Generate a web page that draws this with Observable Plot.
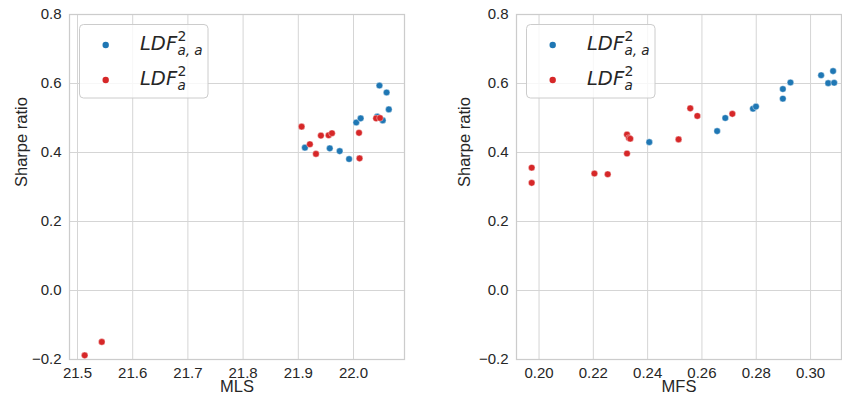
<!DOCTYPE html>
<html>
<head>
<meta charset="utf-8">
<script src="https://cdn.jsdelivr.net/npm/d3@7"></script>
<script src="https://cdn.jsdelivr.net/npm/@observablehq/plot@0.6"></script>
<style>
  html, body { margin: 0; padding: 0; background: #ffffff; }
  #wrap { position: relative; width: 842px; height: 398px; overflow: hidden; background: #ffffff; }
  .panel { position: absolute; top: 0; }
  #overlay { position: absolute; left: 0; top: 0; pointer-events: none; }
</style>
</head>
<body>
<div id="wrap">
  <div class="panel" id="left" style="left:0px"></div>
  <div class="panel" id="right" style="left:421px"></div>
</div>
<script>
// ---------- Data ----------
// Left panel: MLS vs Sharpe ratio
const mlsBlueX = [21.912, 21.957, 21.975, 21.992, 22.005, 22.013, 22.043, 22.047, 22.053, 22.060, 22.064];
const mlsBlueY = [0.414, 0.412, 0.404, 0.381, 0.487, 0.499, 0.504, 0.594, 0.493, 0.574, 0.525];
const mlsRedX = [21.513, 21.544, 21.906, 21.921, 21.932, 21.941, 21.955, 21.961, 22.010, 22.011, 22.041, 22.048];
const mlsRedY = [-0.188, -0.149, 0.475, 0.424, 0.396, 0.449, 0.450, 0.456, 0.457, 0.383, 0.499, 0.500];

// Right panel: MFS vs Sharpe ratio
const mfsBlueX = [0.2406, 0.2656, 0.2686, 0.2788, 0.2799, 0.2898, 0.2898, 0.2926, 0.3039, 0.3065, 0.3083, 0.3087];
const mfsBlueY = [0.430, 0.462, 0.500, 0.527, 0.533, 0.584, 0.556, 0.603, 0.624, 0.601, 0.636, 0.602];
const mfsRedX = [0.1973, 0.1973, 0.2204, 0.2253, 0.2324, 0.2331, 0.2336, 0.2324, 0.2514, 0.2557, 0.2583, 0.2712];
const mfsRedY = [0.356, 0.312, 0.339, 0.337, 0.452, 0.442, 0.440, 0.397, 0.438, 0.528, 0.506, 0.512];

// Tick labels
const yTicks = [-0.2, 0.0, 0.2, 0.4, 0.6, 0.8];
const mlsTicks = [21.5, 21.6, 21.7, 21.8, 21.9, 22.0];
const mfsTicks = [0.20, 0.22, 0.24, 0.26, 0.28, 0.30];
const seriesNames = ["a, a", "a"];
const yLabel = "Sharpe ratio";

// ---------- Styling ----------
const BLUE = "#1f77b4", RED = "#d62728";
const GRID = "#d5d5d5", TEXT = "#262626";
const FONT = "'Liberation Sans', Arial, sans-serif";

function toRows(xs, ys, series) {
  return xs.map((x, i) => ({x, y: ys[i], series}));
}

function panel({blueX, blueY, redX, redY, xDomain, xTicks, xDigits, xLabel, marginLeft, marginRight, yLabelDx}) {
  const blue = toRows(blueX, blueY, "b");
  const red = toRows(redX, redY, "r");
  const fmtY = d => (d < 0 ? "\u2212" : "") + Math.abs(d).toFixed(1);
  return Plot.plot({
    width: 421,
    height: 398,
    marginTop: 14,
    marginBottom: 39,
    marginLeft,
    marginRight,
    style: {fontFamily: FONT, fontSize: "15px", color: TEXT, background: "transparent", overflow: "visible"},
    x: {domain: xDomain, ticks: xTicks, tickFormat: d => d.toFixed(xDigits), tickSize: 0, tickPadding: 8, label: null},
    y: {domain: [-0.2, 0.8], ticks: yTicks, tickFormat: fmtY, tickSize: 0, tickPadding: 8, label: null},
    marks: [
      Plot.ruleX(xTicks, {stroke: GRID, strokeWidth: 1}),
      Plot.ruleY(yTicks, {stroke: GRID, strokeWidth: 1}),
      Plot.frame({stroke: "#cccccc", strokeWidth: 1.25}),
      Plot.dot(blue, {x: "x", y: "y", r: 3.3, fill: BLUE, stroke: "white", strokeWidth: 0.4}),
      Plot.dot(red, {x: "x", y: "y", r: 3.3, fill: RED, stroke: "white", strokeWidth: 0.4}),
      Plot.text([xLabel], {frameAnchor: "bottom", dy: 32, fontSize: 16.5, fill: TEXT}),
      Plot.text([yLabel], {frameAnchor: "left", rotate: -90, dx: yLabelDx, fontSize: 16.5, fill: TEXT})
    ]
  });
}

document.getElementById("left").appendChild(panel({
  blueX: mlsBlueX, blueY: mlsBlueY, redX: mlsRedX, redY: mlsRedY,
  xDomain: [21.4855, 22.0924], xTicks: mlsTicks, xDigits: 1, xLabel: "MLS",
  marginLeft: 69, marginRight: 17, yLabelDx: -48
}));
document.getElementById("right").appendChild(panel({
  blueX: mfsBlueX, blueY: mfsBlueY, redX: mfsRedX, redY: mfsRedY,
  xDomain: [0.1917, 0.3114], xTicks: mfsTicks, xDigits: 2, xLabel: "MFS",
  marginLeft: 95, marginRight: 1, yLabelDx: -52
}));

// ---------- Legends (overlay) ----------
const svg = d3.select("#wrap").append("svg")
  .attr("id", "overlay").attr("width", 842).attr("height", 398);

function legend(x0) {
  const g = svg.append("g").attr("transform", `translate(${x0},0)`);
  g.append("rect").attr("x", 0.5).attr("y", 24.5).attr("width", 128.5).attr("height", 73.5)
    .attr("rx", 4).attr("fill", "white").attr("fill-opacity", 0.8)
    .attr("stroke", "#cccccc").attr("stroke-width", 1);
  const rows = [
    {color: BLUE, cy: 45, base: 50, sub: seriesNames[0]},
    {color: RED, cy: 80, base: 84.5, sub: seriesNames[1]}
  ];
  rows.forEach(r => {
    g.append("circle").attr("cx", 26.7).attr("cy", r.cy).attr("r", 3.2).attr("fill", r.color);
    const t = g.append("text").attr("x", 61).attr("y", r.base)
      .attr("font-family", "'DejaVu Sans', sans-serif")
      .attr("font-size", 19.5).attr("fill", TEXT);
    t.append("tspan").attr("font-style", "italic").text("LDF");
    t.append("tspan").attr("x", 98.5).attr("y", r.base - 9).attr("font-size", 14).text("2");
    t.append("tspan").attr("x", 98.5).attr("y", r.base + 5).attr("font-size", 13.5)
      .attr("font-style", "italic").text(r.sub);
  });
}
legend(79);
legend(526);
</script>
</body>
</html>
